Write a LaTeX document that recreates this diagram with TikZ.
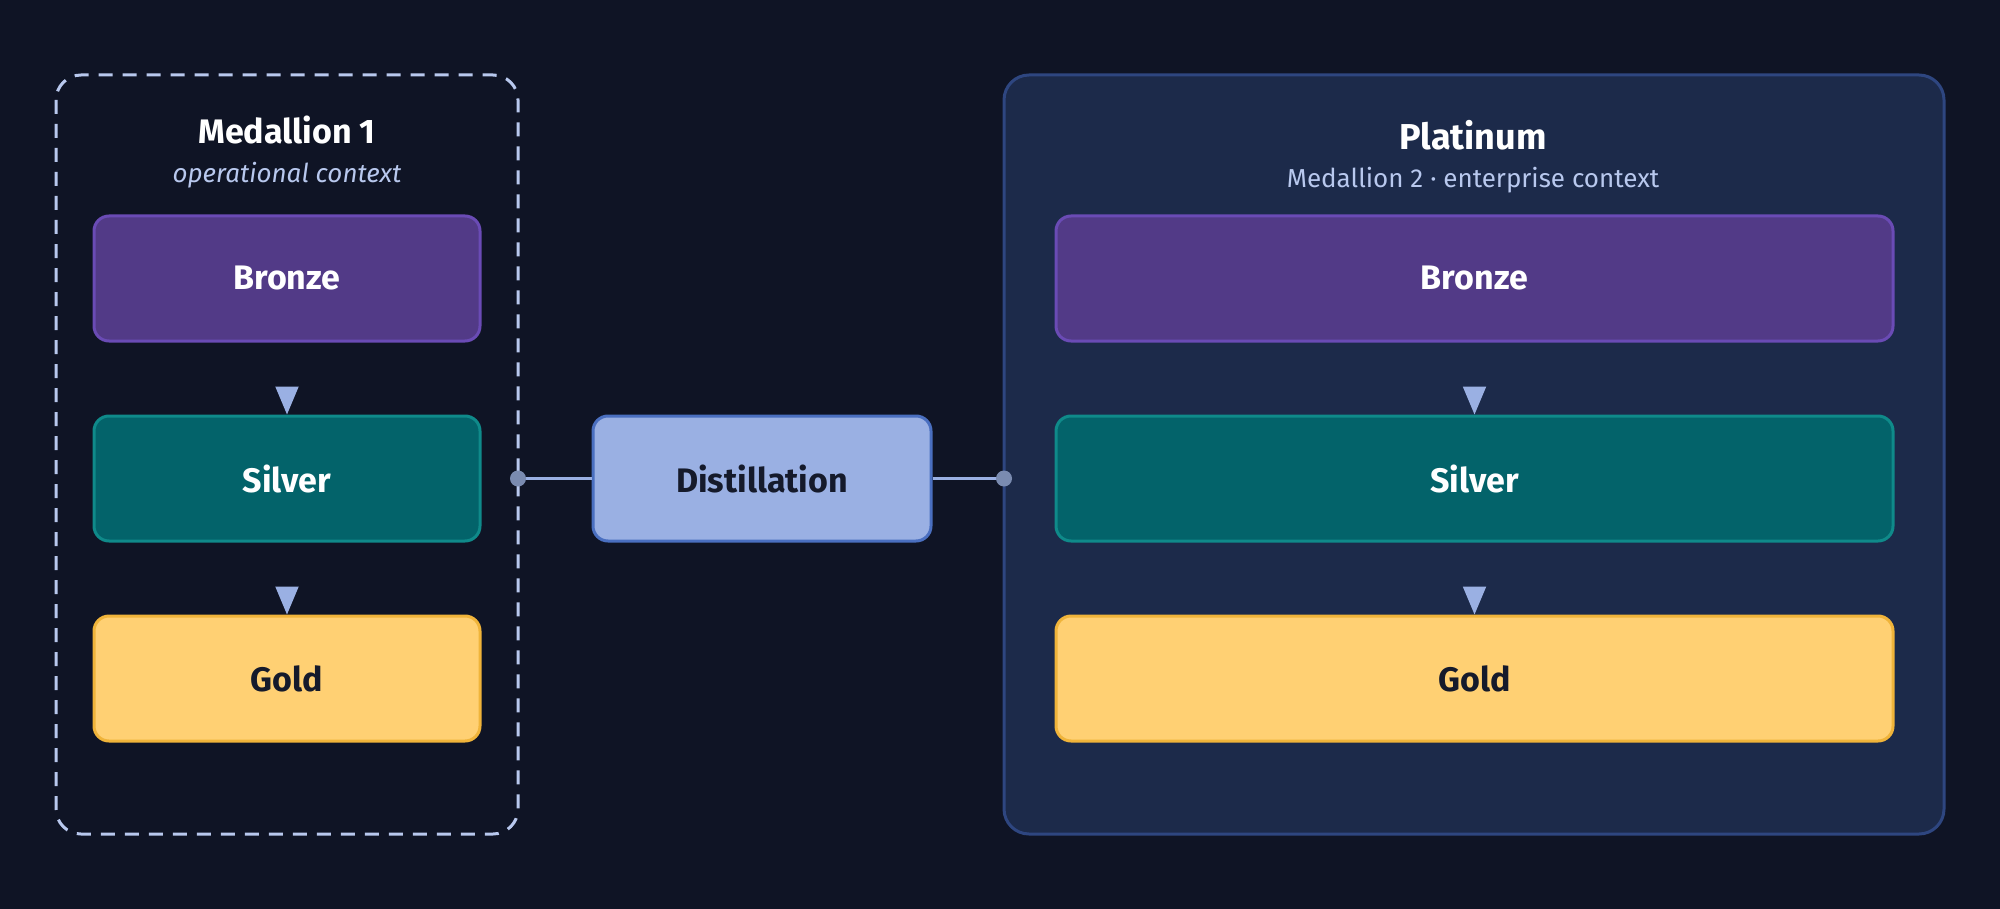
\documentclass[tikz,border=0pt]{standalone}
\usepackage{fontspec}
\setmainfont{Fira Sans}
\usetikzlibrary{arrows.meta,positioning}
\definecolor{bgcol}{HTML}{0F1425}
\definecolor{platfill}{HTML}{1C2A4A}
\definecolor{platline}{HTML}{2E4680}
\definecolor{bronzefill}{HTML}{523A87}
\definecolor{bronzeline}{HTML}{6A4BB5}
\definecolor{silverfill}{HTML}{03636A}
\definecolor{silverline}{HTML}{0F8A8A}
\definecolor{goldfill}{HTML}{FFD073}
\definecolor{goldline}{HTML}{F0B43A}
\definecolor{distfill}{HTML}{9AB0E3}
\definecolor{distline}{HTML}{4A6FC0}
\definecolor{dashcol}{HTML}{B8C8EE}
\definecolor{darktext}{HTML}{151A2B}
\definecolor{subtext}{HTML}{B8C8EE}
\definecolor{dotcol}{HTML}{7A8BB0}
\begin{document}
\begin{tikzpicture}[x=0.5pt,y=-0.5pt,
  layer/.style={rounded corners=7.5pt,line width=1.5pt,font=\fontsize{17}{20}\selectfont\bfseries,inner sep=0pt},
  bronze/.style={layer,fill=bronzefill,draw=bronzeline,text=white},
  silver/.style={layer,fill=silverfill,draw=silverline,text=white},
  gold/.style={layer,fill=goldfill,draw=goldline,text=darktext},
  flow/.style={-{Triangle[length=14pt,width=11.5pt]},draw=distfill,fill=distfill,line width=1pt,shorten <=23.5pt},
  link/.style={draw=distfill,line width=1.5pt},
  dot/.style={circle,fill=dotcol,inner sep=0pt,minimum size=8pt}]
\fill[bgcol] (0,0) rectangle (2000,909);

% Medallion 1
\draw[dashcol,line width=1.5pt,dash pattern=on 7pt off 5pt,rounded corners=12.5pt] (56,75) rectangle (518,834);
\node[text=white,font=\fontsize{17}{20}\selectfont\bfseries] (m1title) at (287,130) {Medallion 1};
\node[text=subtext,font=\fontsize{13}{16}\selectfont\itshape] (m1sub) at (287,175) {operational context};
\node[bronze,minimum width=193pt,minimum height=62.5pt] (b1) at (287,278.5) {Bronze};
\node[silver,minimum width=193pt,minimum height=62.5pt] (s1) at (287,478.5) {Silver};
\node[gold,minimum width=193pt,minimum height=62.5pt] (g1) at (287,678.5) {Gold};
\draw[flow] (b1) -- (s1);
\draw[flow] (s1) -- (g1);

% Platinum
\draw[platline,fill=platfill,line width=1.5pt,rounded corners=12.5pt] (1004,75) rectangle (1944,834);
\node[text=white,font=\fontsize{18}{21}\selectfont\bfseries] (ptitle) at (1473,135) {Platinum};
\node[text=subtext,font=\fontsize{13}{16}\selectfont] (psub) at (1473,180) {Medallion 2 · enterprise context};
\node[bronze,minimum width=418.5pt,minimum height=62.5pt] (b2) at (1474.5,278.5) {Bronze};
\node[silver,minimum width=418.5pt,minimum height=62.5pt] (s2) at (1474.5,478.5) {Silver};
\node[gold,minimum width=418.5pt,minimum height=62.5pt] (g2) at (1474.5,678.5) {Gold};
\draw[flow] (b2) -- (s2);
\draw[flow] (s2) -- (g2);

% Distillation
\coordinate (inport) at (518,478.5);
\coordinate (outport) at (1004,478.5);
\node[layer,fill=distfill,draw=distline,text=darktext,minimum width=169pt,minimum height=62.5pt] (dist) at (762,478.5) {Distillation};
\draw[link] (inport) -- (dist);
\draw[link] (dist) -- (outport);
\node[dot] (indot) at (inport) {};
\node[dot] (outdot) at (outport) {};
\end{tikzpicture}
\end{document}
